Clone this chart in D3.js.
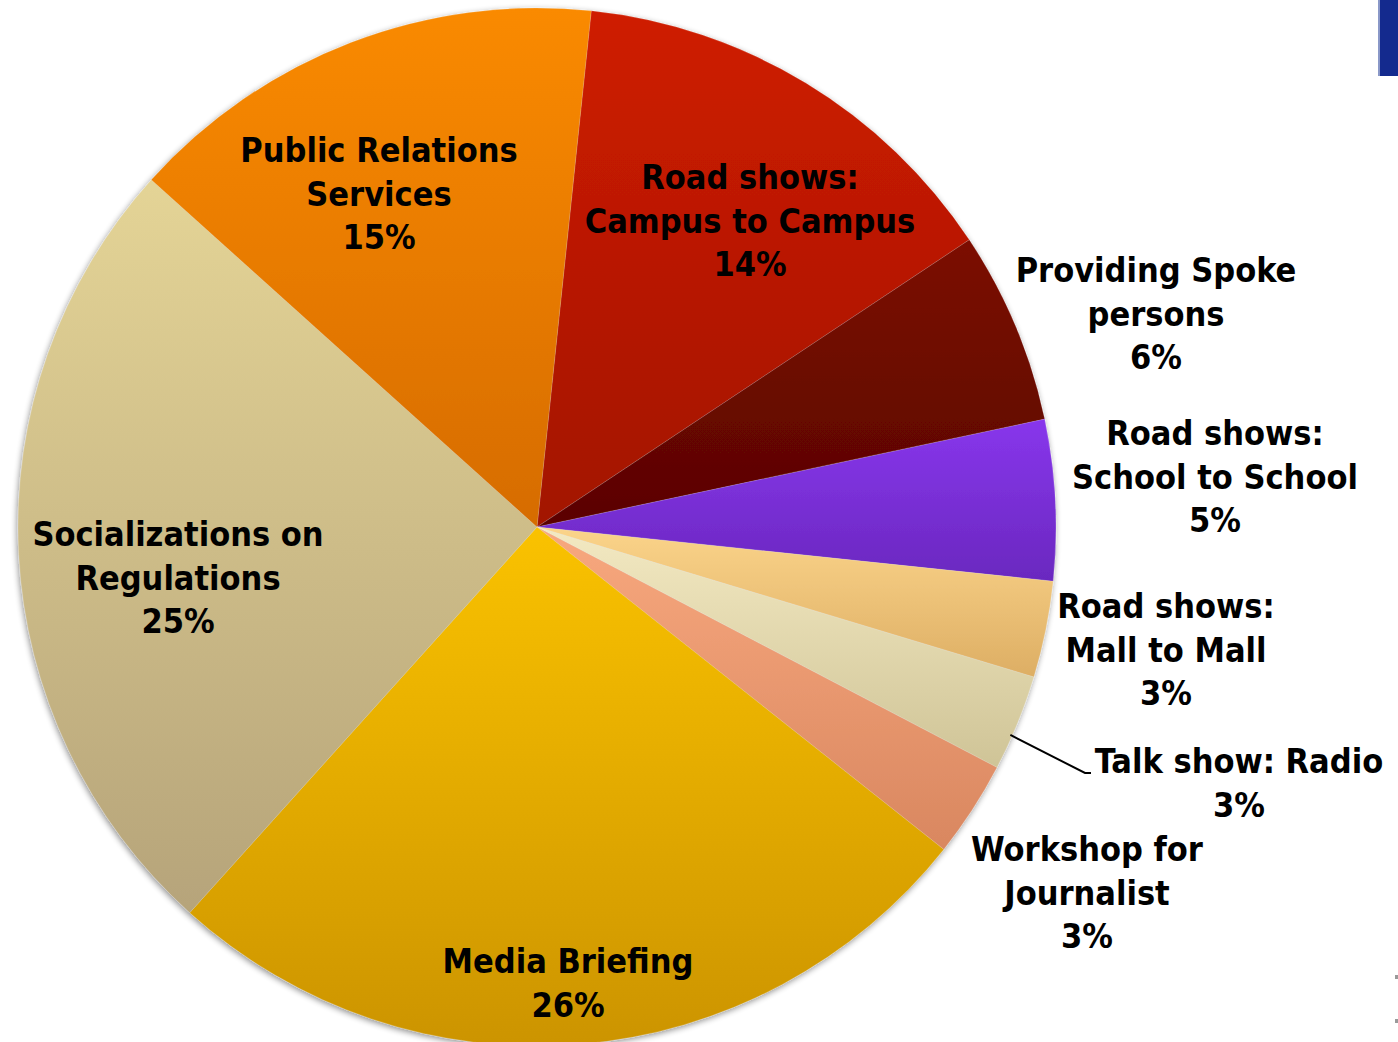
<!DOCTYPE html>
<html>
<head>
<meta charset="utf-8">
<script src="https://cdn.jsdelivr.net/npm/d3@7"></script>
<style>
  html, body { margin: 0; padding: 0; background: #ffffff; }
  svg { display: block; }
  .lbl { font-family: "DejaVu Sans Condensed", "DejaVu Sans", sans-serif; font-weight: bold; font-stretch: condensed; font-size: 34px; fill: #000; }
</style>
</head>
<body>
<svg id="chart" width="1398" height="1042"></svg>
<script>
// Communication activities, share of total (clockwise from the top)
const categories = [
  "Road shows: Campus to Campus",
  "Providing Spoke persons",
  "Road shows: School to School",
  "Road shows: Mall to Mall",
  "Talk show: Radio",
  "Workshop for Journalist",
  "Media Briefing",
  "Socializations on Regulations",
  "Public Relations Services"
];
const values = [14, 6, 5, 3, 3, 3, 26, 25, 15];

// Label lines as printed on the chart
const labelLines = [
  ["Road shows:", "Campus to Campus"],
  ["Providing Spoke", "persons"],
  ["Road shows:", "School to School"],
  ["Road shows:", "Mall to Mall"],
  ["Talk show: Radio"],
  ["Workshop for", "Journalist"],
  ["Media Briefing"],
  ["Socializations on", "Regulations"],
  ["Public Relations", "Services"]
];

// Slice fills: top and bottom stops of each vertical gradient
const topColors    = ["#cf1d00", "#7c0c00", "#8836ec", "#fbd48a", "#f3e9c2", "#f8a87e", "#fac200", "#e4d496", "#fa8a00"];
const bottomColors = ["#a21200", "#5a0400", "#6a28bf", "#ddae64", "#cfc497", "#d98760", "#cc9400", "#b6a47a", "#d66c00"];

// Label anchor points (centre of the first line)
const labelPos = [
  [750, 177], [1156, 270], [1215, 433], [1166, 606], [1239, 761],
  [1087, 849], [568, 961], [178, 534], [379, 150]
];
const lineGap = 43.5;

const cx = 537, cy = 527, R = 519;
const startDeg = 6;

const svg = d3.select("#chart");
const defs = svg.append("defs");

// soft shadow under the pie
const shadow = defs.append("filter").attr("id", "shadow")
  .attr("x", "-10%").attr("y", "-10%").attr("width", "120%").attr("height", "120%");
shadow.append("feGaussianBlur").attr("in", "SourceAlpha").attr("stdDeviation", 3).attr("result", "b");
shadow.append("feOffset").attr("in", "b").attr("dx", -1).attr("dy", 2).attr("result", "o");
shadow.append("feComponentTransfer").attr("in", "o").attr("result", "s")
  .append("feFuncA").attr("type", "linear").attr("slope", 0.45);
const merge = shadow.append("feMerge");
merge.append("feMergeNode").attr("in", "s");
merge.append("feMergeNode").attr("in", "SourceGraphic");

categories.forEach((c, i) => {
  const g = defs.append("linearGradient").attr("id", "grad" + i)
    .attr("x1", 0).attr("y1", 0).attr("x2", 0).attr("y2", 1);
  g.append("stop").attr("offset", "0%").attr("stop-color", topColors[i]);
  g.append("stop").attr("offset", "100%").attr("stop-color", bottomColors[i]);
});

const pie = d3.pie().sort(null)
  .startAngle(startDeg * Math.PI / 180)
  .endAngle(startDeg * Math.PI / 180 + 2 * Math.PI);
const arcs = pie(values);
const arc = d3.arc().innerRadius(0).outerRadius(R);

const gPie = svg.append("g").attr("transform", `translate(${cx},${cy})`)
  .attr("filter", "url(#shadow)");
gPie.selectAll("path.slice").data(arcs).enter().append("path")
  .attr("class", "slice")
  .attr("d", arc)
  .attr("fill", (d, i) => `url(#grad${i})`)
  .attr("stroke", "rgba(255,255,255,0.25)")
  .attr("stroke-width", 0.6);

// leader line for the radio slice, from its outer edge to the label
const radio = arcs[4];
const edgeA = radio.startAngle + (radio.endAngle - radio.startAngle) * 0.64;
const ex = cx + Math.sin(edgeA) * (R - 2), ey = cy - Math.cos(edgeA) * (R - 2);
svg.append("polyline")
  .attr("points", `${ex},${ey} 1085,773 1091,773`)
  .attr("fill", "none").attr("stroke", "#000").attr("stroke-width", 2);

// labels
const gLbl = svg.append("g");
arcs.forEach((d, i) => {
  const lines = labelLines[i].concat([values[i] + "%"]);
  const t = gLbl.append("text").attr("class", "lbl")
    .attr("text-anchor", "middle")
    .attr("x", labelPos[i][0]).attr("y", labelPos[i][1]);
  lines.forEach((ln, k) => {
    t.append("tspan").attr("x", labelPos[i][0])
      .attr("y", labelPos[i][1] + k * lineGap)
      .attr("dy", "0.36em")
      .text(ln);
  });
});

// slide edge decoration at the top right
svg.append("rect").attr("x", 1378).attr("y", 0).attr("width", 20).attr("height", 76).attr("fill", "#142a8e");
svg.append("rect").attr("x", 1378).attr("y", 0).attr("width", 2).attr("height", 76).attr("fill", "#8a98c8");
svg.append("rect").attr("x", 1395).attr("y", 975).attr("width", 3).attr("height", 4).attr("fill", "#9a9a9a");
svg.append("rect").attr("x", 1395).attr("y", 1019).attr("width", 3).attr("height", 4).attr("fill", "#9a9a9a");
</script>
</body>
</html>
